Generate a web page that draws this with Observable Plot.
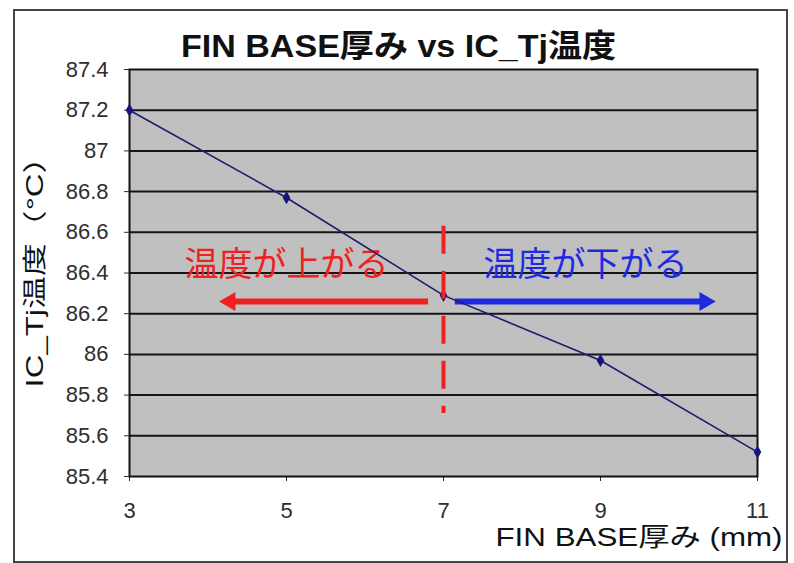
<!DOCTYPE html>
<html>
<head>
<meta charset="utf-8">
<script src="https://cdn.jsdelivr.net/npm/d3@7"></script>
<script src="https://cdn.jsdelivr.net/npm/@observablehq/plot@0.6"></script>
<style>
  html, body { margin: 0; padding: 0; background: #fff; }
  #wrap { position: relative; width: 794px; height: 563px; overflow: hidden; }
  #frame { position: absolute; left: 13px; top: 9px; width: 771px; height: 550px; border: 2px solid #444; box-sizing: content-box; pointer-events: none; }
  #chart { position: absolute; left: 0; top: 0; }
</style>
</head>
<body>
<div id="wrap"><div id="chart"></div><div id="frame"></div></div>
<script>
// ---- data ----
const thickness = [3, 5, 7, 9, 11];               // FIN BASE厚み (mm)
const tjTemp = [87.2, 86.77, 86.29, 85.97, 85.52]; // IC_Tj温度 (°C)
const xTicks = [3, 5, 7, 9, 11];
const yTicks = [85.4, 85.6, 85.8, 86, 86.2, 86.4, 86.6, 86.8, 87, 87.2, 87.4];
const yTickLabels = ["85.4", "85.6", "85.8", "86", "86.2", "86.4", "86.6", "86.8", "87", "87.2", "87.4"];
const titleText = "FIN BASE厚み vs IC_Tj温度";
const xLabel = "FIN BASE厚み (mm)";
const yLabel = "IC_Tj温度（°C）";
const noteUp = "温度が上がる";
const noteDown = "温度が下がる";

const data = thickness.map((x, i) => ({x, y: tjTemp[i]}));
const latin = "'Liberation Sans', Arial, 'Noto Sans CJK JP', sans-serif";
const jp = "'Noto Sans CJK JP', sans-serif";
const red = "#ee2020";
const blue = "#1f2ae0";

const plot = Plot.plot({
  width: 794,
  height: 563,
  marginLeft: 129,
  marginRight: 37,
  marginTop: 69,
  marginBottom: 87,
  style: {fontFamily: latin, fontSize: "22px", color: "#2e2e2e", background: "transparent", overflow: "visible"},
  x: {domain: [3, 11], ticks: xTicks, tickSize: 5, tickPadding: 21, label: null, tickFormat: d => String(d)},
  y: {domain: [85.4, 87.4], ticks: yTicks, tickSize: 5, tickPadding: 16, label: null,
      tickFormat: d => yTickLabels[yTicks.indexOf(d)]},
  marks: [
    Plot.frame({fill: "#c0c0c0"}),
    Plot.ruleY(yTicks.slice(1, -1), {stroke: "#151515", strokeWidth: 2}),
    Plot.frame({stroke: "#111", strokeWidth: 2}),
    // arrows
    Plot.ruleY([86.26], {x1: 6.81, x2: 4.3, stroke: red, strokeWidth: 6}),
    Plot.dot([0], {x: 4.28, y: 86.26, symbol: "triangle", r: 7, fill: red, stroke: null, rotate: -90}),
    Plot.ruleY([86.26], {x1: 7.15, x2: 10.3, stroke: blue, strokeWidth: 6}),
    Plot.dot([0], {x: 10.33, y: 86.26, symbol: "triangle", r: 7, fill: blue, stroke: null, rotate: 90}),
    Plot.text([noteUp], {x: 5.0, y: 86.44, fontSize: 34, fill: red, fontFamily: jp, lineAnchor: "middle"}),
    Plot.text([noteDown], {x: 8.81, y: 86.44, fontSize: 34, fill: blue, fontFamily: jp, lineAnchor: "middle"}),
    // series
    Plot.line(data, {x: "x", y: "y", stroke: "#1d1d70", strokeWidth: 1.6}),
    Plot.dot(data, {x: "x", y: "y", symbol: "diamond", r: 4, fill: "#16167a", stroke: null}),
    // annotation: dashed boundary at 7 mm
    Plot.ruleX([7], {y1: 86.63, y2: 85.71, stroke: red, strokeWidth: 4, strokeDasharray: "28,17"}),
    // titles
    Plot.text([titleText], {frameAnchor: "top", dx: -45, dy: -13, lineAnchor: "bottom",
      fontSize: 32, fontWeight: "bold", fill: "#111", fontFamily: latin}),
    Plot.text([xLabel], {frameAnchor: "bottom-right", dx: 25, dy: 69, lineAnchor: "bottom",
      textAnchor: "end", fontSize: 26, fill: "#111", fontFamily: latin}),
    Plot.text([yLabel], {frameAnchor: "left", dx: -87, dy: 114.5, lineAnchor: "bottom",
      textAnchor: "start", rotate: -90, fontSize: 24, fill: "#111", fontFamily: latin})
  ]
});

// stretch titles to the widths they occupy in the reference
const stretch = {[titleText]: 435, [xLabel]: 287, [yLabel]: 247};
d3.select(plot).selectAll("text").each(function() {
  const t = this.textContent;
  if (stretch[t]) {
    this.setAttribute("textLength", stretch[t]);
    this.setAttribute("lengthAdjust", "spacingAndGlyphs");
  }
});

document.getElementById("chart").appendChild(plot);
</script>
</body>
</html>
